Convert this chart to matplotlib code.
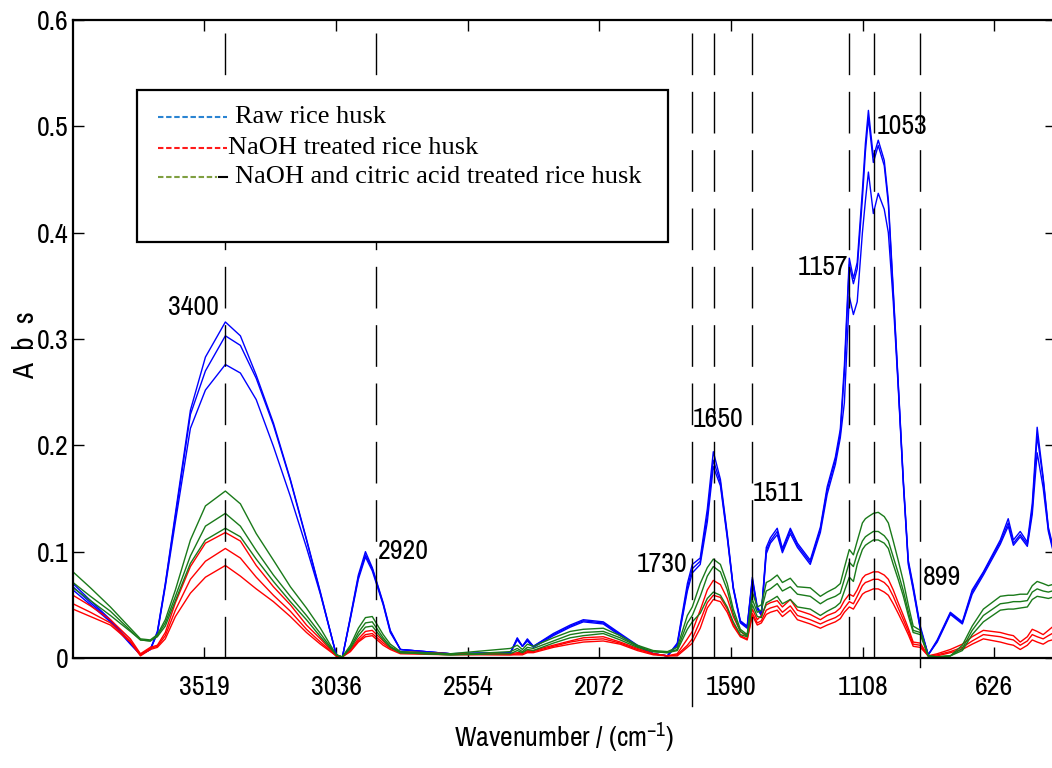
import matplotlib
matplotlib.use("Agg")
import matplotlib.pyplot as plt
from matplotlib.patches import Rectangle

plt.rcParams["font.family"] = ["Archivo Narrow", "DejaVu Sans"]
plt.rcParams["mathtext.fontset"] = "custom"
plt.rcParams["mathtext.rm"] = "Archivo Narrow"
plt.rcParams["mathtext.it"] = "Archivo Narrow"

# --- data (wavenumber in cm-1, absorbance) ---
wavenumber = [
    4000, 3936, 3863, 3790, 3753, 3717, 3691, 3662, 3625, 3570,
    3515, 3442, 3387, 3329, 3266, 3204, 3145, 3094, 3036, 3014,
    2984, 2955, 2929, 2904, 2864, 2838, 2801, 2618, 2398, 2373,
    2354, 2336, 2314, 2241, 2179, 2131, 2058, 1996, 1933, 1875,
    1823, 1787, 1750, 1732, 1703, 1677, 1655, 1629, 1604, 1582,
    1556, 1531, 1512, 1494, 1479, 1461, 1446, 1421, 1402, 1373,
    1347, 1300, 1263, 1238, 1208, 1190, 1175, 1157, 1142, 1128,
    1109, 1098, 1087, 1069, 1051, 1029, 1014, 996, 978, 959,
    941, 923, 897, 868, 835, 787, 743, 707, 666, 604,
    575, 556, 531, 505, 487, 469, 447, 428, 414, 400]

raw_1 = [
    .070, .054, .036, .015, .003, .008, .025, .070, .136, .233,
    .283, .316, .303, .266, .221, .168, .112, .062, .003, .000,
    .039, .078, .100, .085, .052, .026, .008, .004, .005, .019,
    .011, .018, .011, .023, .031, .036, .034, .023, .012, .004,
    .002, .014, .070, .088, .094, .140, .194, .168, .117, .067,
    .035, .030, .076, .048, .042, .104, .113, .122, .103, .122,
    .108, .092, .123, .161, .189, .215, .275, .376, .357, .372,
    .440, .484, .515, .471, .487, .468, .431, .346, .260, .167,
    .092, .068, .030, .003, .017, .043, .034, .064, .081, .111,
    .131, .111, .119, .109, .145, .217, .170, .123, .108, .095]
raw_2 = [
    .067, .052, .035, .014, .003, .008, .024, .069, .133, .229,
    .270, .303, .294, .263, .219, .167, .111, .061, .003, .000,
    .038, .076, .097, .084, .051, .025, .008, .004, .005, .018,
    .011, .017, .011, .022, .030, .035, .033, .022, .011, .004,
    .002, .013, .066, .084, .091, .134, .186, .165, .115, .066,
    .034, .029, .074, .047, .041, .101, .110, .119, .101, .120,
    .106, .090, .121, .158, .186, .211, .268, .370, .352, .366,
    .432, .476, .508, .466, .482, .463, .427, .343, .258, .165,
    .090, .066, .028, .003, .016, .042, .033, .062, .080, .109,
    .127, .108, .116, .107, .140, .209, .168, .121, .106, .093]
raw_3 = [
    .064, .050, .034, .013, .003, .008, .023, .067, .128, .216,
    .252, .276, .268, .243, .199, .152, .104, .060, .003, .000,
    .037, .074, .095, .082, .050, .024, .008, .004, .005, .017,
    .011, .016, .010, .021, .029, .034, .032, .021, .011, .004,
    .002, .012, .063, .080, .088, .128, .180, .162, .113, .065,
    .033, .028, .072, .046, .040, .098, .108, .116, .099, .117,
    .104, .088, .118, .154, .182, .207, .240, .340, .323, .335,
    .400, .430, .457, .418, .437, .422, .400, .335, .255, .163,
    .088, .064, .027, .003, .015, .041, .032, .060, .078, .107,
    .124, .106, .114, .105, .135, .193, .160, .119, .104, .091]

naoh_1 = [
    .059, .049, .036, .018, .004, .010, .012, .024, .052, .086,
    .108, .118, .110, .087, .067, .050, .031, .018, .002, .001,
    .008, .018, .025, .026, .016, .010, .006, .004, .004, .005,
    .005, .007, .007, .012, .016, .019, .020, .015, .009, .004,
    .002, .004, .018, .025, .045, .064, .073, .069, .056, .039,
    .025, .020, .046, .036, .040, .050, .052, .054, .048, .055,
    .045, .041, .036, .040, .043, .047, .054, .060, .058, .064,
    .075, .078, .079, .081, .081, .078, .074, .064, .052, .040,
    .028, .015, .014, .002, .004, .008, .013, .020, .026, .024,
    .022, .021, .015, .020, .027, .025, .022, .026, .029, .029]
naoh_2 = [
    .051, .043, .033, .016, .003, .009, .011, .021, .045, .074,
    .091, .103, .094, .076, .059, .044, .027, .015, .002, .001,
    .007, .016, .022, .023, .014, .009, .005, .004, .003, .004,
    .004, .006, .006, .011, .015, .017, .018, .014, .008, .004,
    .002, .003, .012, .018, .035, .052, .059, .057, .046, .032,
    .021, .018, .042, .033, .035, .045, .047, .049, .043, .049,
    .040, .036, .032, .035, .038, .041, .047, .053, .051, .058,
    .068, .071, .072, .074, .074, .071, .067, .058, .047, .036,
    .025, .013, .012, .002, .003, .006, .010, .016, .022, .020,
    .018, .017, .012, .016, .022, .020, .018, .021, .023, .023]
naoh_3 = [
    .046, .039, .031, .015, .002, .008, .010, .018, .039, .061,
    .076, .087, .077, .065, .053, .039, .024, .013, .002, .001,
    .006, .015, .020, .021, .012, .008, .004, .003, .003, .003,
    .003, .005, .005, .010, .013, .015, .016, .013, .007, .003,
    .002, .002, .010, .014, .028, .047, .055, .053, .043, .030,
    .020, .017, .040, .031, .033, .041, .043, .045, .039, .045,
    .036, .032, .028, .031, .034, .037, .043, .048, .046, .052,
    .060, .062, .063, .065, .065, .062, .059, .051, .042, .032,
    .022, .011, .010, .002, .002, .005, .008, .013, .018, .015,
    .013, .012, .008, .012, .017, .015, .013, .016, .017, .017]

citric_1 = [
    .081, .066, .048, .028, .018, .017, .022, .036, .064, .111,
    .143, .157, .145, .117, .092, .067, .047, .028, .003, .001,
    .012, .028, .038, .039, .022, .013, .006, .004, .009, .012,
    .008, .013, .011, .019, .025, .027, .028, .021, .012, .007,
    .006, .010, .040, .048, .070, .085, .093, .088, .070, .046,
    .027, .022, .062, .048, .050, .071, .073, .078, .071, .075,
    .067, .066, .058, .062, .066, .070, .085, .102, .097, .110,
    .127, .131, .133, .136, .137, .133, .127, .110, .092, .072,
    .050, .030, .026, .002, .001, .002, .012, .030, .046, .058,
    .059, .059, .060, .060, .068, .072, .070, .068, .069, .068]
citric_2 = [
    .071, .058, .044, .026, .017, .016, .021, .033, .058, .096,
    .124, .136, .124, .101, .078, .058, .040, .023, .003, .001,
    .010, .024, .033, .034, .019, .011, .005, .003, .006, .009,
    .006, .010, .009, .016, .022, .024, .025, .019, .011, .006,
    .005, .008, .033, .040, .058, .077, .086, .081, .064, .042,
    .025, .021, .055, .043, .045, .063, .065, .070, .063, .067,
    .060, .058, .051, .055, .058, .061, .074, .090, .086, .098,
    .110, .114, .116, .119, .119, .115, .110, .095, .080, .063,
    .044, .026, .024, .002, .001, .002, .009, .026, .040, .051,
    .052, .053, .053, .054, .062, .065, .063, .062, .063, .062]
citric_3 = [
    .066, .054, .040, .025, .017, .016, .020, .030, .054, .089,
    .111, .122, .114, .093, .072, .053, .036, .020, .003, .001,
    .009, .021, .029, .030, .017, .010, .005, .003, .004, .007,
    .005, .008, .007, .014, .019, .021, .023, .017, .010, .006,
    .005, .007, .027, .034, .042, .056, .062, .059, .048, .034,
    .022, .020, .050, .039, .038, .052, .054, .058, .051, .055,
    .048, .046, .040, .044, .048, .052, .063, .076, .072, .088,
    .102, .106, .108, .111, .111, .108, .103, .088, .074, .058,
    .040, .024, .022, .002, .001, .002, .007, .022, .034, .045,
    .046, .046, .047, .048, .055, .058, .057, .056, .057, .056]

x_ticks = [3519, 3036, 2554, 2072, 1590, 1108, 626]
y_ticks = [0, 0.1, 0.2, 0.3, 0.4, 0.5, 0.6]
y_ticklabels = ["0", "0.1", "0.2", "0.3", "0.4", "0.5", "0.6"]

# peak marker lines and their labels (x, y, text, alignment)
marker_lines = [3442, 2889, 1732, 1651, 1512, 1157, 1066, 897]
peak_labels = [
    (3559, 0.330, "3400", "center"),
    (2882, 0.100, "2920", "left"),
    (1750, 0.088, "1730", "right"),
    (1732, 0.224, "1650", "left"),
    (1512, 0.155, "1511", "left"),
    (1161, 0.367, "1157", "right"),
    (1058, 0.500, "1053", "left"),
    (886, 0.076, "899", "left"),
]

legend_names = ["Raw rice husk", "NaOH treated rice husk",
                "NaOH and citric acid treated rice husk"]
legend_colors = ["#2a84d2", "#ff1a1a", "#7f9f40"]

BLUE = "#0000ff"
RED = "#ff0000"
GREEN = "#1a7a1a"

fig = plt.figure(figsize=(10.52, 7.68), dpi=100)
ax = fig.add_axes([73 / 1052, 110 / 768, 983 / 1052, 638 / 768])

for ys in (raw_1, raw_2, raw_3):
    ax.plot(wavenumber, ys, color=BLUE, lw=1.0)
for ys in (naoh_1, naoh_2, naoh_3):
    ax.plot(wavenumber, ys, color=RED, lw=1.0)
for ys in (citric_1, citric_2, citric_3):
    ax.plot(wavenumber, ys, color=GREEN, lw=1.0)

for xv in marker_lines:
    ax.axvline(xv, color="black", lw=1.0, linestyle=(0, (30, 12)))
# two marker lines poke below the axis
ax.plot([1732, 1732], [0, -0.045], color="black", lw=1.0, clip_on=False)
ax.plot([897, 897], [0, -0.008], color="black", lw=1.0, clip_on=False)

for xv, yv, txt, ha in peak_labels:
    ax.text(xv, yv, txt, ha=ha, va="center", fontsize=20)

# legend box drawn by hand (dashed swatches + serif text)
ax.add_patch(Rectangle((0.0651, 0.652), 0.5402, 0.2384, transform=ax.transAxes,
                       fill=True, facecolor="white", edgecolor="black", lw=1.6,
                       zorder=5))
entry_y = [0.848, 0.7994, 0.754]
swatch_end = [0.1567, 0.1567, 0.1465]
text_x = [0.1648, 0.1577, 0.1648]
for name, col, yy, xe, xt in zip(legend_names, legend_colors, entry_y,
                                 swatch_end, text_x):
    ax.plot([0.0865, xe], [yy, yy], transform=ax.transAxes, color=col, lw=1.5,
            linestyle=(0, (2.6, 1.3)), zorder=6)
    ax.text(xt, yy, name, transform=ax.transAxes, ha="left", va="center",
            fontsize=19, family=["Liberation Serif", "DejaVu Serif"], zorder=6)
ax.plot([0.1485, 0.1567], [0.754, 0.754], transform=ax.transAxes, color="black",
        lw=1.5, zorder=6)

ax.set_xlim(4000, 400)
ax.set_ylim(0, 0.6)
ax.set_xticks(x_ticks)
ax.set_xticklabels([str(v) for v in x_ticks])
ax.set_yticks(y_ticks)
ax.set_yticklabels(y_ticklabels)
ax.tick_params(direction="in", length=8, width=1.0, top=True, right=True,
               labelsize=20)
ax.tick_params(axis="x", pad=12)
ax.tick_params(axis="y", pad=3)
for sp in ax.spines.values():
    sp.set_linewidth(1.6)

ax.set_xlabel(r"Wavenumber / (cm$^{-1}$)", fontsize=20, va="center")
ax.xaxis.set_label_coords(0.5, -0.125)
ax.set_ylabel("A  b  s", fontsize=21, rotation=90, va="center", ha="center")
ax.yaxis.set_label_coords(-0.048, 0.49)

fig.savefig("out.png", dpi=100)
